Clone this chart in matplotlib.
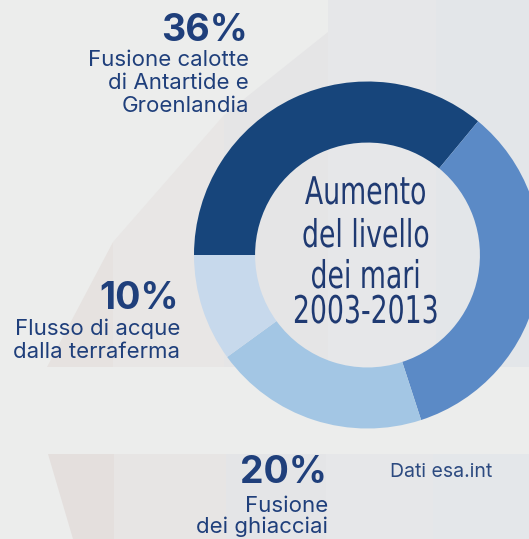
import matplotlib
matplotlib.use("Agg")
import matplotlib.pyplot as plt
import matplotlib.patheffects as pe
from matplotlib.patches import Polygon
from matplotlib.transforms import Affine2D

# ---------------------------------------------------------------
# data (ESA: contributions to sea level rise 2003-2013)
# ---------------------------------------------------------------
shares = [36, 34, 20, 10]
colors = ['#17457b', '#5b8ac6', '#a3c6e4', '#c7d9ec']
label_lines = [
    ['Fusione calotte', 'di Antartide e', 'Groenlandia'],
    None,  # segment without label (cropped on the right)
    ['Fusione', 'dei ghiacciai'],
    ['Flusso di acque', 'dalla terraferma'],
]
center_lines = ['Aumento', 'del livello', 'dei mari', '2003-2013']
source = 'Dati esa.int'

W, H = 529, 539
BG = '#ecedec'
TXT = '#1f3f7b'


class Squeeze(pe.AbstractPathEffect):
    # condensed look for the centre title: squeeze glyphs horizontally
    def __init__(self, sx):
        super().__init__()
        self.sx = sx

    def draw_path(self, renderer, gc, tpath, affine, rgbFace=None):
        ext = tpath.get_extents()
        cx = (ext.x0 + ext.x1) / 2
        sq = Affine2D().translate(-cx, 0).scale(self.sx, 1).translate(cx, 0)
        renderer.draw_path(gc, tpath, sq + affine, rgbFace)


fig = plt.figure(figsize=(W / 100, H / 100), dpi=100, facecolor=BG)

# background layer in pixel coordinates
bg = fig.add_axes([0, 0, 1, 1])
bg.set_xlim(0, W)
bg.set_ylim(H, 0)
bg.axis('off')

# faint decorative stripes behind the chart
top_stripes = [
    ([(47, 367), (113, 242), (113, 367)], '#e6e2e0'),
    ([(113, 367), (113, 242), (224, 115), (224, 367)], '#e8e6e5'),
    ([(224, 367), (224, 115), (328, 32), (328, 367)], '#e5e5e6'),
    ([(328, 367), (328, 0), (436, 0), (436, 367)], '#e6e7e9'),
    ([(436, 367), (436, 0), (529, 0), (529, 367)], '#e3e6e9'),
]
bottom_stripes = [
    ([(48, 454), (114, 454), (114, 539), (73, 539)], '#e4dfdd'),
    ([(114, 454), (226, 454), (226, 539), (114, 539)], '#e7e5e4'),
    ([(226, 454), (326, 454), (326, 539), (226, 539)], '#e4e5e7'),
    ([(326, 454), (433, 454), (433, 539), (326, 539)], '#e6e7e9'),
    ([(433, 454), (529, 454), (529, 539), (433, 539)], '#e4e7ea'),
]
for pts, c in top_stripes + bottom_stripes:
    bg.add_patch(Polygon(pts, closed=True, facecolor=c, edgecolor='none'))

# donut
cx, cy, R = 367.5, 255, 173.5
ax = fig.add_axes([(cx - R) / W, (H - cy - R) / H, 2 * R / W, 2 * R / H])
ax.pie(shares, colors=colors, startangle=180, counterclock=False,
       radius=1, wedgeprops=dict(width=0.352, edgecolor='none'))
ax.set_xlim(-1, 1)
ax.set_ylim(-1, 1)
ax.axis('off')

# centre title
for txt, yb in zip(center_lines, [204, 247, 288, 323]):
    bg.text(366, yb, txt, ha='center', va='baseline', fontsize=27.5,
            family='DejaVu Sans', color='#1f3a72',
            path_effects=[Squeeze(0.70)])

# labels
lab_font = 'Inter'
label_pos = [
    (248, 41, [66, 89, 112]),
    None,
    (327, 483, [512, 533]),
    (179, 309, [335, 358]),
]
for v, lines, pos in zip(shares, label_lines, label_pos):
    if lines is None:
        continue
    x, yp, ybs = pos
    bg.text(x, yp, f'{v}%', ha='right', va='baseline', fontsize=27,
            fontweight='bold', family=lab_font, color=TXT)
    for line, yb in zip(lines, ybs):
        bg.text(x + 1, yb, line, ha='right', va='baseline', fontsize=16,
                family=lab_font, color=TXT)

bg.text(390, 477, source, ha='left', va='baseline', fontsize=14,
        family=lab_font, color='#2c4a80')

fig.savefig('out.png', dpi=100, facecolor=BG)
